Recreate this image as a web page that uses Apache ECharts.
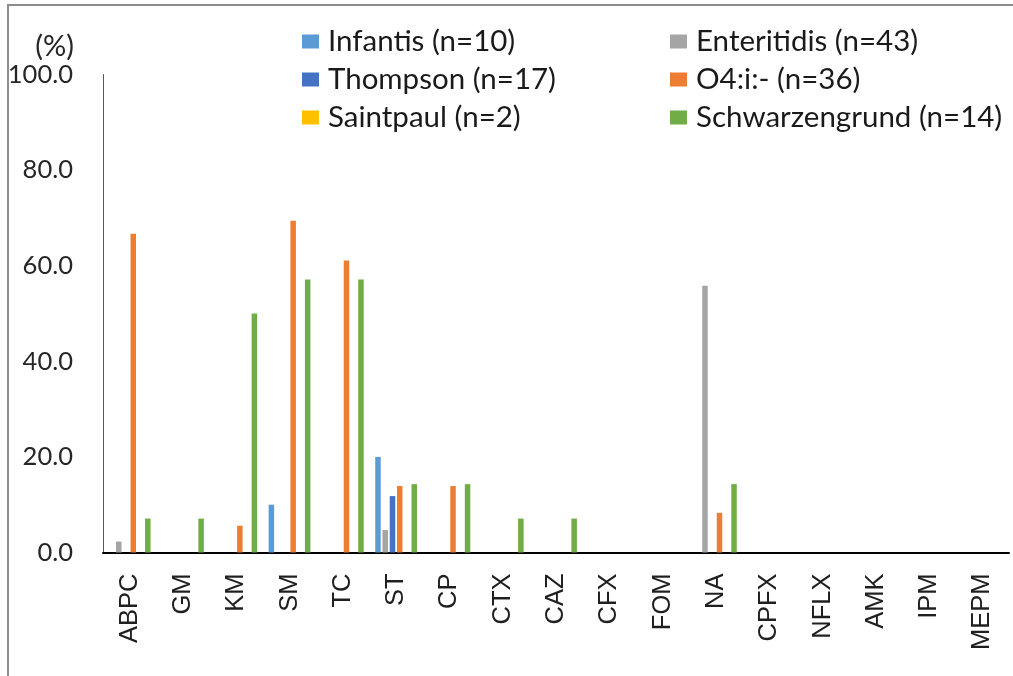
<!DOCTYPE html>
<html>
<head>
<meta charset="utf-8">
<script src="https://cdn.jsdelivr.net/npm/echarts@6/dist/echarts.min.js"></script>
<style>
html,body{margin:0;padding:0;background:#fff;}
#chart{width:1013px;height:676px;}
</style>
</head>
<body>
<div id="chart"></div>
<script>
const categories = ['ABPC','GM','KM','SM','TC','ST','CP','CTX','CAZ','CFX','FOM','NA','CPFX','NFLX','AMK','IPM','MEPM'];
const infantis       = [0, 0, 0, 10.0, 0, 20.0, 0, 0, 0, 0, 0, 0, 0, 0, 0, 0, 0];
const enteritidis    = [2.3, 0, 0, 0, 0, 4.7, 0, 0, 0, 0, 0, 55.8, 0, 0, 0, 0, 0];
const thompson       = [0, 0, 0, 0, 0, 11.8, 0, 0, 0, 0, 0, 0, 0, 0, 0, 0, 0];
const o4i            = [66.7, 0, 5.6, 69.4, 61.1, 13.9, 13.9, 0, 0, 0, 0, 8.3, 0, 0, 0, 0, 0];
const saintpaul      = [0, 0, 0, 0, 0, 0, 0, 0, 0, 0, 0, 0, 0, 0, 0, 0, 0];
const schwarzengrund = [7.1, 7.1, 50.0, 57.1, 57.1, 14.3, 14.3, 7.1, 7.1, 0, 0, 14.3, 0, 0, 0, 0, 0];
const seriesNames = ['Infantis (n=10)','Enteritidis (n=43)','Thompson (n=17)','O4:i:- (n=36)','Saintpaul (n=2)','Schwarzengrund (n=14)'];
const seriesData = [infantis, enteritidis, thompson, o4i, saintpaul, schwarzengrund];
const colors = ['#5B9BD5','#A5A5A5','#4472C4','#ED7D31','#FFC000','#70AD47'];
const yTicks = [0, 20, 40, 60, 80, 100];

const chart = echarts.init(document.getElementById('chart'));
const legendText = {fontFamily:'Lato', fontSize:29.5, color:'#1a1a1a', lineHeight:31, padding:[0,0,0,4]};
const legendCommon = {top:26, orient:'vertical', icon:'rect', itemWidth:17, itemHeight:14, itemGap:7, padding:0, selectedMode:false, textStyle:legendText};
chart.setOption({
  animation:false,
  color: colors,
  graphic:[
    {type:'rect', shape:{x:8,y:5,width:1100,height:800}, style:{fill:'none', stroke:'#8c8c8c', lineWidth:2}, silent:true}
  ],
  legend:[
    Object.assign({data:[seriesNames[0],seriesNames[2],seriesNames[4]], left:302}, legendCommon),
    Object.assign({data:[seriesNames[1],seriesNames[3],seriesNames[5]], left:670}, legendCommon)
  ],
  grid:{left:103, right:4, top:74.5, bottom:123.5, containLabel:false},
  xAxis:{
    type:'category', data:categories,
    axisLine:{lineStyle:{color:'#000', width:2}},
    axisTick:{show:false},
    axisLabel:{rotate:90, margin:21, fontFamily:'Liberation Sans', fontSize:25.5, color:'#1f1f1f', interval:0}
  },
  yAxis:{
    type:'value', min:yTicks[0], max:yTicks[yTicks.length-1], interval:20,
    name:'(%)', nameLocation:'end', nameGap:12,
    nameTextStyle:{fontFamily:'Lato', fontSize:29, color:'#262626', align:'right', verticalAlign:'bottom', padding:[0,29,0,0]},
    axisLine:{show:true, lineStyle:{color:'#595959', width:1}},
    axisTick:{show:false},
    splitLine:{show:false},
    axisLabel:{margin:30, fontFamily:'Lato', fontSize:25.5, color:'#262626', formatter:v=>v.toFixed(1)}
  },
  series: seriesNames.map((n,i)=>({
    name:n, type:'bar', data:seriesData[i], barWidth:5.5, barGap:'32%',
    itemStyle:{color:colors[i]}
  }))
});
</script>
</body>
</html>
